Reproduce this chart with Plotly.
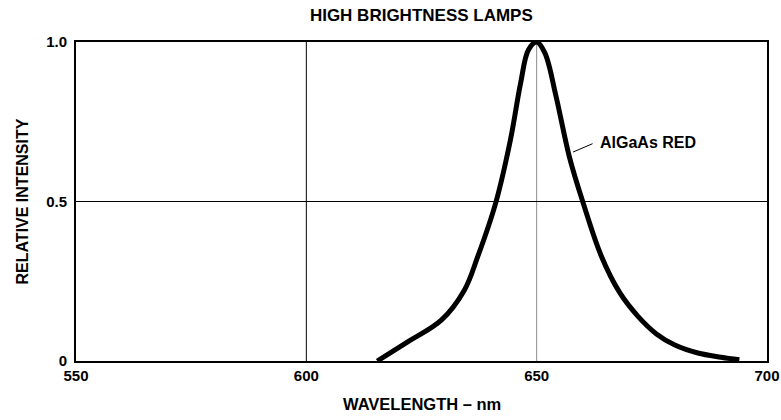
import plotly.graph_objects as go

wavelength = [615.4, 622, 629.3, 634.3, 637.2, 641.1, 644.3, 646.5, 648.2, 650.0,
              651.8, 654.2, 657.1, 660.1, 664, 668, 672, 676, 680, 685, 690, 694]
intensity = [0.0, 0.06, 0.128, 0.222, 0.327, 0.495, 0.693, 0.87, 0.975, 1.0,
             0.965, 0.83, 0.64, 0.495, 0.33, 0.215, 0.14, 0.085, 0.05, 0.025, 0.012, 0.004]
x_ticks = [550, 600, 650, 700]
x_tick_labels = ["550", "600", "650", "700"]
y_ticks = [0, 0.5, 1.0]
y_tick_labels = ["0", "0.5", "1.0"]
x_grid = [600, 650]
x_grid_colors = ["black", "#8a8a8a"]
y_grid = [0.5]

FONT = "Liberation Sans, Arial, sans-serif"
FS = 15

fig = go.Figure()
fig.add_trace(go.Scatter(
    x=wavelength, y=intensity, mode="lines",
    line=dict(color="black", width=5, shape="spline", smoothing=1.0),
    showlegend=False, hoverinfo="skip"))

for xv, c in zip(x_grid, x_grid_colors):
    fig.add_shape(type="line", xref="x", yref="paper", x0=xv, x1=xv, y0=0, y1=1,
                  line=dict(color=c, width=1), layer="below")
for yv in y_grid:
    fig.add_shape(type="line", xref="paper", yref="y", x0=0, x1=1, y0=yv, y1=yv,
                  line=dict(color="black", width=1), layer="below")

fig.add_annotation(x=657.9, y=0.655, ax=21, ay=-9, text="", showarrow=True,
                   arrowhead=0, arrowwidth=1, arrowcolor="black")
fig.add_annotation(x=663.3, y=0.685, text="<b>AlGaAs RED</b>", showarrow=False,
                   xanchor="left", yanchor="middle",
                   font=dict(family=FONT, size=16, color="black"))

# axis titles
fig.add_annotation(xref="paper", yref="paper", x=0.5, y=0, yshift=-43,
                   text="<b>WAVELENGTH – nm</b>", showarrow=False,
                   xanchor="center", yanchor="middle",
                   font=dict(family=FONT, size=16.5, color="black"))
fig.add_annotation(xref="paper", yref="paper", x=0, y=0.5, xshift=-54,
                   text="<b>RELATIVE INTENSITY</b>", showarrow=False, textangle=-90,
                   xanchor="center", yanchor="middle",
                   font=dict(family=FONT, size=16, color="black"))

fig.update_layout(
    width=781, height=420,
    margin=dict(l=76, r=14, t=42, b=59),
    paper_bgcolor="white", plot_bgcolor="white",
    title=dict(text="<b>HIGH BRIGHTNESS LAMPS</b>", x=0.5395, xanchor="center",
               xref="container", yref="container", y=1 - 15 / 420, yanchor="middle",
               font=dict(family=FONT, size=17, color="black")),
    xaxis=dict(range=[550, 700], tickvals=x_ticks, ticktext=["<b>%s</b>" % t for t in x_tick_labels],
               showgrid=False, automargin=False,
               showline=True, linecolor="black", linewidth=2, mirror=True,
               ticks="", zeroline=False,
               tickfont=dict(family=FONT, size=FS, color="black")),
    yaxis=dict(range=[0, 1.0], tickvals=y_ticks, ticktext=["<b>%s</b>" % t for t in y_tick_labels],
               showgrid=False, automargin=False,
               showline=True, linecolor="black", linewidth=2, mirror=True,
               ticks="outside", ticklen=4, tickcolor="rgba(0,0,0,0)", zeroline=False,
               tickfont=dict(family=FONT, size=FS, color="black")),
)

fig.write_html("out.html", config={"displayModeBar": False},
               post_script="document.body.style.margin='0';document.body.style.overflow='hidden';")
